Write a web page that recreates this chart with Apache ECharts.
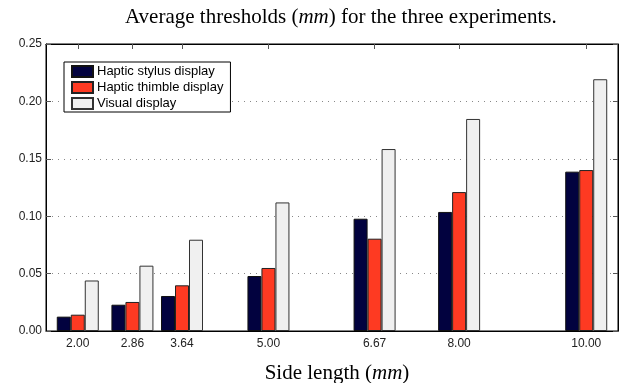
<!DOCTYPE html>
<html>
<head>
<meta charset="utf-8">
<script src="https://cdn.jsdelivr.net/npm/echarts@6/dist/echarts.min.js"></script>
<style>
  html, body { margin: 0; padding: 0; background: #fff; }
  #chart { width: 624px; height: 383px; }
</style>
</head>
<body>
<div id="chart"></div>
<script>
// side lengths (mm)
const sideLengths = [2.00, 2.86, 3.64, 5.00, 6.67, 8.00, 10.00]
// average thresholds (mm)
const stylusValues = [0.0125, 0.0229, 0.0305, 0.0479, 0.0978, 0.1037, 0.1388]
const thimbleValues = [0.0142, 0.0253, 0.0398, 0.0549, 0.0804, 0.1210, 0.1402]
const visualValues = [0.0440, 0.0569, 0.0795, 0.1120, 0.1585, 0.1847, 0.2193]

const sans = 'Liberation Sans, Arial, sans-serif'
const serif = 'Liberation Serif, Times New Roman, serif'

const pairs = vals => sideLengths.map((x, i) => [x, vals[i]])

const chart = echarts.init(document.getElementById('chart'), null, { renderer: 'canvas' })

chart.setOption({
  animation: false,
  backgroundColor: '#fff',
  title: {
    text: 'Average thresholds ({i|mm}) for the three experiments.',
    left: 120,
    top: 2,
    textStyle: {
      fontFamily: serif,
      fontSize: 21,
      fontWeight: 'normal',
      color: '#000',
      rich: {
        i: { fontFamily: serif, fontSize: 21, fontStyle: 'italic', color: '#000' }
      }
    }
  },
  legend: {
    orient: 'vertical',
    left: 64,
    top: 62,
    padding: [3, 7, 2, 7],
    icon: 'rect',
    itemWidth: 21,
    itemHeight: 11,
    itemGap: 3,
    borderColor: '#000',
    borderWidth: 1,
    backgroundColor: '#fff',
    textStyle: { fontFamily: sans, fontSize: 13, color: '#000', padding: [0, 0, 0, -1] },
    data: ['Haptic stylus display', 'Haptic thimble display', 'Visual display']
  },
  grid: {
    left: 46, right: 6, top: 44, bottom: 52,
    outerBoundsMode: 'none',
    containLabel: false,
    show: true, borderColor: '#000', borderWidth: 1
  },
  xAxis: [
    {
      type: 'value',
      min: 1.5,
      max: 10.5,
      name: 'Side length ({i|mm})',
      nameLocation: 'middle',
      nameGap: 32,
      nameTextStyle: {
        fontFamily: serif,
        fontSize: 21,
        color: '#000',
        padding: [0, 0, 0, 10],
        rich: { i: { fontFamily: serif, fontSize: 21, fontStyle: 'italic', color: '#000' } }
      },
      axisLine: { show: true, onZero: false, lineStyle: { color: '#000', width: 1 } },
      axisTick: { show: true, inside: true, length: 5, customValues: sideLengths, lineStyle: { color: '#000' } },
      axisLabel: {
        customValues: sideLengths,
        formatter: v => v.toFixed(2),
        fontFamily: sans,
        fontSize: 12,
        color: '#222',
        margin: 7
      },
      splitLine: { show: false }
    },
    {
      type: 'value',
      position: 'top',
      min: 1.5,
      max: 10.5,
      axisLine: { show: true, onZero: false, lineStyle: { color: '#000', width: 1 } },
      axisTick: { show: true, inside: true, length: 5, customValues: sideLengths, lineStyle: { color: '#555' } },
      axisLabel: { show: false, customValues: sideLengths },
      splitLine: { show: false }
    }
  ],
  yAxis: [
    {
      type: 'value',
      min: 0,
      max: 0.25,
      interval: 0.05,
      axisLine: { show: true, lineStyle: { color: '#000', width: 1 } },
      axisTick: { show: true, inside: true, length: 5, lineStyle: { color: '#555' } },
      axisLabel: {
        formatter: v => v.toFixed(2),
        fontFamily: sans,
        fontSize: 12,
        color: '#222',
        margin: 4
      },
      splitLine: { show: true, lineStyle: { type: [1, 5], color: '#888', width: 1 } }
    },
    {
      type: 'value',
      position: 'right',
      min: 0,
      max: 0.25,
      interval: 0.05,
      axisLine: { show: true, lineStyle: { color: '#000', width: 1 } },
      axisTick: { show: true, inside: true, length: 5, lineStyle: { color: '#555' } },
      axisLabel: { show: false },
      splitLine: { show: false }
    }
  ],
  series: [
    {
      name: 'Haptic stylus display',
      type: 'bar',
      barWidth: 14,
      barGap: '0%',
      itemStyle: { color: '#02023f', borderColor: '#111', borderWidth: 1 },
      data: pairs(stylusValues)
    },
    {
      name: 'Haptic thimble display',
      type: 'bar',
      barWidth: 14,
      barGap: '0%',
      itemStyle: { color: '#fe3a22', borderColor: '#222', borderWidth: 1 },
      data: pairs(thimbleValues)
    },
    {
      name: 'Visual display',
      type: 'bar',
      barWidth: 14,
      barGap: '0%',
      itemStyle: { color: '#f0f0f0', borderColor: '#333', borderWidth: 1 },
      data: pairs(visualValues)
    },
    {
      // keeps the top frame axis drawn
      type: 'line',
      xAxisIndex: 1,
      yAxisIndex: 1,
      silent: true,
      data: []
    }
  ]
})
</script>
</body>
</html>
